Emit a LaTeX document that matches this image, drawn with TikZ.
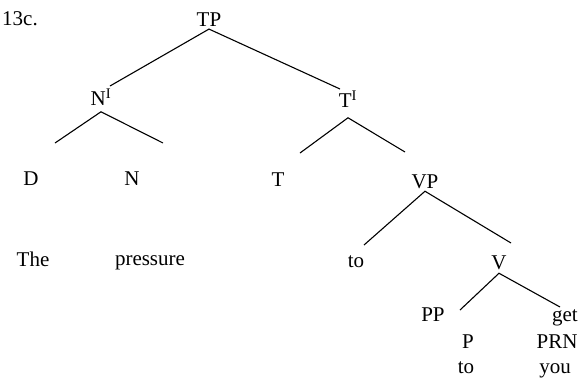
\documentclass[tikz,border=0pt]{standalone}
\usepackage{fontspec}
\setmainfont{Liberation Serif}
\usepackage{tikz}
\usetikzlibrary{positioning}

\tikzset{lab/.style={inner sep=1pt, font=\fontsize{21}{23}\selectfont},
         branch/.style={line width=1.1pt}}

\begin{document}
\begin{tikzpicture}[x=1pt,y=-1pt]
\useasboundingbox (0,0) rectangle (582,384);
% labels
\node[lab] (ex) at (20,19) {13c.};
\node[lab] (tp) at (209,20) {TP};
\node[lab] (nb) at (101,97) {N\textsuperscript{I}};
\node[lab] (tb) at (348,99) {T\textsuperscript{I}};
\node[lab] (d) at (31,179) {D};
\node[lab] (n) at (132,179) {N};
\node[lab] (t) at (278,180) {T};
\node[lab] (vp) at (425,182) {VP};
\node[lab] (the) at (33,259) {The};
\node[lab] (pres) at (150,263) {pressure};
\node[lab] (toa) at (356,262) {to};
\node[lab] (v) at (499,263) {V};
\node[lab] (pp) at (433,315) {PP};
\node[lab] (get) at (565,318) {get};
\node[lab] (p) at (468,342) {P};
\node[lab] (prn) at (557,342) {PRN};
\node[lab] (tob) at (466,368) {to};
\node[lab] (you) at (555,371) {you};
% free ends of the branches
\coordinate (tpl) at (110,86);
\coordinate (tpr) at (340,89);
\coordinate (nbl) at (55,143);
\coordinate (nbr) at (163,143);
\coordinate (tbl) at (300,153);
\coordinate (tbr) at (405,152);
\coordinate (vpl) at (364,245);
\coordinate (vpr) at (511,243);
\coordinate (vl) at (460,310);
\coordinate (vr) at (560,307);
% branches
\draw[branch] (tpl) -- ([yshift=-1pt]tp.south) -- (tpr);
\draw[branch] (nbl) -- ([yshift=-5pt]nb.south) -- (nbr);
\draw[branch] (tbl) -- ([yshift=-9pt]tb.south) -- (tbr);
\draw[branch] (vpl) -- ([yshift=-1pt]vp.south) -- (vpr);
\draw[branch] (vl) -- ([yshift=-2pt]v.south) -- (vr);
\end{tikzpicture}
\end{document}
